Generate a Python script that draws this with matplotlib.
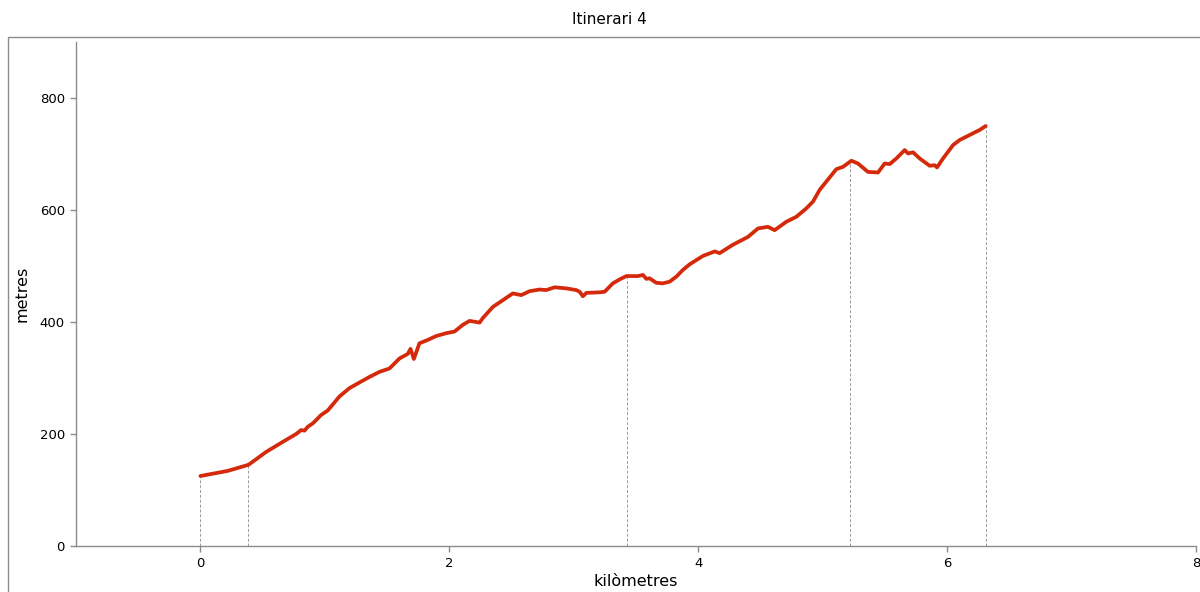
import matplotlib.pyplot as plt
from matplotlib.patches import Rectangle

# perfil d'elevació (km, m)
km = [0.0, 0.217, 0.386, 0.528, 0.662, 0.769, 0.809, 0.836, 0.863, 0.903,
      0.970, 1.023, 1.117, 1.198, 1.278, 1.359, 1.439, 1.519, 1.600, 1.666,
      1.688, 1.715, 1.760, 1.827, 1.895, 1.975, 2.042, 2.109, 2.162, 2.243,
      2.269, 2.350, 2.430, 2.510, 2.578, 2.645, 2.725, 2.779, 2.846, 2.940,
      3.020, 3.047, 3.073, 3.101, 3.207, 3.248, 3.314, 3.368, 3.422, 3.515,
      3.556, 3.583, 3.609, 3.663, 3.716, 3.770, 3.824, 3.877, 3.931, 4.038,
      4.132, 4.172, 4.279, 4.400, 4.480, 4.560, 4.614, 4.708, 4.789, 4.869,
      4.922, 4.976, 5.110, 5.163, 5.231, 5.284, 5.364, 5.445, 5.498, 5.539,
      5.592, 5.659, 5.686, 5.726, 5.780, 5.860, 5.900, 5.919, 5.967, 6.048,
      6.101, 6.155, 6.208, 6.262, 6.310]
alt = [125, 134, 145, 168, 186, 200, 207, 206, 213, 219,
       234, 242, 267, 282, 292, 302, 311, 317, 335, 343,
       352, 334, 362, 368, 375, 380, 383, 395, 402, 399,
       407, 427, 439, 451, 448, 455, 458, 457, 462, 460,
       457, 454, 446, 452, 453, 454, 469, 476, 482, 482,
       484, 477, 478, 470, 469, 472, 481, 493, 503, 518,
       526, 523, 538, 552, 567, 570, 564, 579, 588, 603,
       615, 636, 673, 677, 688, 683, 668, 667, 683, 682,
       692, 707, 701, 703, 692, 679, 680, 676, 692, 716,
       725, 731, 737, 743, 750]

# punts marcats amb línies verticals
marks_km = [0.0, 0.386, 3.43, 5.217, 6.31]

title = "Itinerari 4"
xlab = "kilòmetres"
ylab = "metres"
xticks = [0, 2, 4, 6, 8]
yticks = [0, 200, 400, 600, 800]

grey = "#8c8c8c"

fig = plt.figure(figsize=(12, 5.92), dpi=100)
ax = fig.add_axes([76/1200, 46/592, 1120/1200, 504/592])

# marc exterior
fig.patches.append(Rectangle((8/1200, -0.1), 1.2, 555/592 + 0.1,
                             transform=fig.transFigure, fill=False,
                             edgecolor=grey, lw=1))

for m in marks_km:
    # alçada a la posició de la marca
    y = alt[-1]
    for i in range(len(km) - 1):
        if km[i] <= m <= km[i + 1]:
            t = (m - km[i]) / (km[i + 1] - km[i])
            y = alt[i] + t * (alt[i + 1] - alt[i])
            break
    ax.plot([m, m], [0, y], color="#999999", lw=0.7, ls=(0, (3, 2)), zorder=1)

ax.plot(km, alt, color="#d42a0b", lw=2.7, solid_capstyle="round",
        solid_joinstyle="round", zorder=3)

ax.set_xlim(-1, 8)
ax.set_ylim(0, 900)
ax.set_xticks(xticks)
ax.set_yticks(yticks)

for s in ["top", "right"]:
    ax.spines[s].set_visible(False)
for s in ["left", "bottom"]:
    ax.spines[s].set_color(grey)
    ax.spines[s].set_linewidth(1)
ax.tick_params(colors=grey, labelcolor="black", labelsize=9.5, length=4,
               width=1, pad=4)

fig.text(609/1200, 1 - 20/592, title, ha="center", va="center", fontsize=11)
fig.text(636/1200, 1 - 582/592, xlab, ha="center", va="center", fontsize=11.5)
fig.text(22/1200, 1 - 294/592, ylab, ha="center", va="center",
         rotation=90, fontsize=11.5)

fig.savefig("out.png", dpi=100)
